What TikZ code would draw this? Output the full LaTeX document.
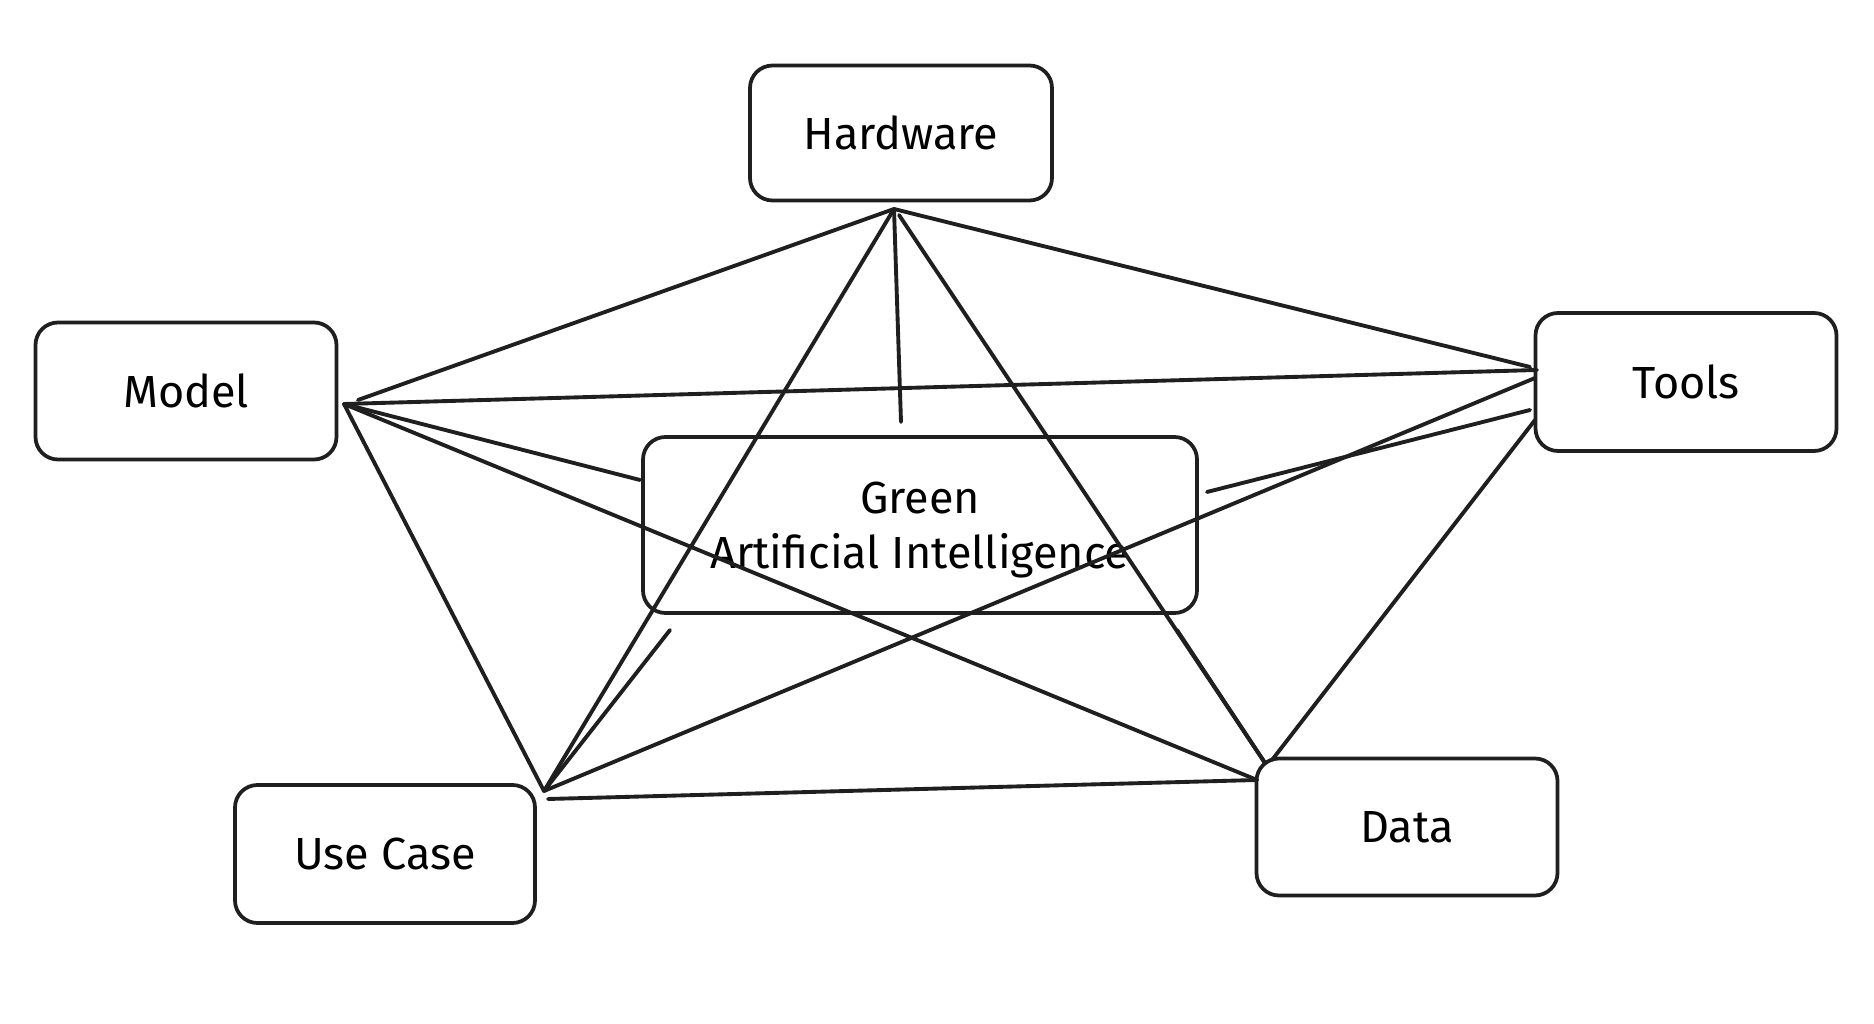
\documentclass[tikz,border=0pt]{standalone}
\usepackage{fontspec}
\setmainfont{Fira Sans}
\begin{document}
\begin{tikzpicture}[x=0.4pt,y=-0.4pt,
  box/.style={draw=black!88,line width=1.5pt,rounded corners=9pt,inner sep=0pt,
    minimum width=#1,align=center,font=\fontsize{18}{22}\selectfont},
  conn/.style={draw=black!88,line width=1.55pt,line cap=round}]
\useasboundingbox (0,0) rectangle (1874,1024);
\fill[white] (0,0) rectangle (1874,1024);
% boxes
\node[box=120.8pt,minimum height=54pt] (hw) at (901,133) {Hardware};
\node[box=120.4pt,minimum height=54.8pt] (model) at (186,391) {Model};
\node[box=120.4pt,minimum height=55.2pt] (tools) at (1686,382) {Tools};
\node[box=221.6pt,minimum height=70.4pt] (green) at (920,525) {};
\node[font=\fontsize{18}{22}\selectfont,align=center] (greentext) at (920,530) {Green\\Artificial Intelligence};
\node[box=120pt,minimum height=55.2pt] (uc) at (385,854) {Use Case};
\node[box=120.4pt,minimum height=54.8pt] (data) at (1407,827) {Data};
% connection points
\coordinate (hwA) at (894,209);
\coordinate (hwB) at (899,215);
\coordinate (hwC) at (901,422);
\coordinate (mA) at (344,404);
\coordinate (mB) at (358,400);
\coordinate (gL) at (640,480);
\coordinate (tA) at (1530,367);
\coordinate (tB) at (1537,370);
\coordinate (tC) at (1535,378);
\coordinate (tD) at (1530,410);
\coordinate (tE) at (1535,420);
\coordinate (gR) at (1207,492);
\coordinate (uA) at (544,791);
\coordinate (uB) at (548,799);
\coordinate (gBL) at (670,630);
\coordinate (dA) at (1257,780);
\coordinate (dB) at (1265,763);
\coordinate (dC) at (1272,760);
\coordinate (gBR) at (1177,630);
% connectors
\draw[conn] (hwA) -- (mB);
\draw[conn] (hwA) -- (tA);
\draw[conn] (hwA) -- (hwC);
\draw[conn] (hwA) -- (uA);
\draw[conn] (hwB) -- (dB);
\draw[conn] (mA) -- (tB);
\draw[conn] (mA) -- (gL);
\draw[conn] (mA) -- (dA);
\draw[conn] (mA) -- (uA);
\draw[conn] (tC) -- (uA);
\draw[conn] (tD) -- (gR);
\draw[conn] (tE) -- (dC);
\draw[conn] (uB) -- (dA);
\draw[conn] (gBL) -- (uA);
\draw[conn] (gBR) -- (dB);
\end{tikzpicture}
\end{document}
